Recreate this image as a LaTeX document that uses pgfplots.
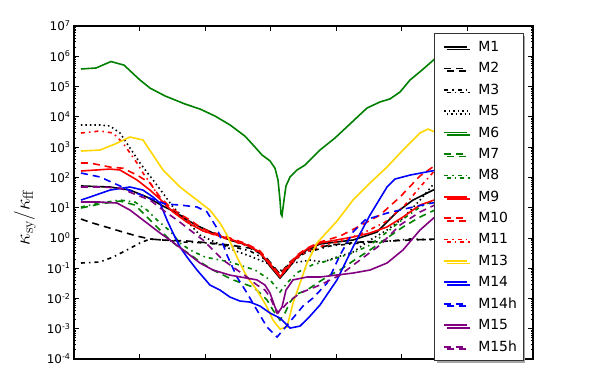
\documentclass[border=0pt]{standalone}
\usepackage[no-math]{fontspec}
\setmainfont{DejaVu Sans}
\usepackage{pgfplots}
\pgfplotsset{compat=1.18}
\usetikzlibrary{shadows}
\definecolor{mplgreen}{rgb}{0,0.5,0}
\definecolor{mplgold}{rgb}{1,0.84,0}
\definecolor{mplpurple}{rgb}{0.5,0,0.5}
\tikzset{
  mdash/.style={dash pattern=on 7bp off 5bp},
  mdashdot/.style={dash pattern=on 4bp off 4bp on 1.5bp off 4bp},
  mdot/.style={dash pattern=on 1.5bp off 3bp},
}
\begin{document}
\begin{tikzpicture}
\path[use as bounding box] (-74bp,-25bp) rectangle (518bp,359bp);
\begin{axis}[
  at={(0,0)}, anchor=south west,
  scale only axis, width=459bp, height=333bp,
  ymode=log, xmin=74, xmax=533, ymin=1e-4, ymax=1e7,
  xtick={74,139.57,205.14,270.71,336.29,401.86,467.43,533},
  xticklabels={,,,,,,,},
  ytick={1e-4,1e-3,1e-2,1e-1,1,1e1,1e2,1e3,1e4,1e5,1e6,1e7},
  yticklabels={10\textsuperscript{-4},10\textsuperscript{-3},10\textsuperscript{-2},10\textsuperscript{-1},10\textsuperscript{0},10\textsuperscript{1},10\textsuperscript{2},10\textsuperscript{3},10\textsuperscript{4},10\textsuperscript{5},10\textsuperscript{6},10\textsuperscript{7}},
  minor ytick={2e-4,3e-4,4e-4,5e-4,6e-4,7e-4,8e-4,9e-4,
    2e-3,3e-3,4e-3,5e-3,6e-3,7e-3,8e-3,9e-3,
    2e-2,3e-2,4e-2,5e-2,6e-2,7e-2,8e-2,9e-2,
    0.2,0.3,0.4,0.5,0.6,0.7,0.8,0.9,
    2,3,4,5,6,7,8,9,
    20,30,40,50,60,70,80,90,
    200,300,400,500,600,700,800,900,
    2e3,3e3,4e3,5e3,6e3,7e3,8e3,9e3,
    2e4,3e4,4e4,5e4,6e4,7e4,8e4,9e4,
    2e5,3e5,4e5,5e5,6e5,7e5,8e5,9e5,
    2e6,3e6,4e6,5e6,6e6,7e6,8e6,9e6},
  major tick length=5bp, minor tick length=2.5bp,
  tick style={line width=0.8bp, black},
  axis line style={line width=1.3bp},
  tick label style={font=\fontsize{12}{14}\selectfont},
  every axis y label/.style={at={(axis description cs:-0.107,0.425)}, rotate=90, anchor=center},
  ylabel={\fontsize{21}{25}\selectfont$\kappa_{\mathrm{sy}}\Big/\kappa_{\mathrm{ff}}$},
  every axis plot/.append style={line width=1.6bp},
  legend cell align=left,
  legend image code/.code={%
    \pgfpathmoveto{\pgfpoint{0bp}{-1bp}}\pgfpathlineto{\pgfpoint{38bp}{1bp}}\pgfusepath{use as bounding box}%
    \draw[#1] (6bp,0bp) -- (29bp,0bp);},
  legend style={at={(0.7843,0.979)}, anchor=north west, draw=black!80, line width=0.6bp, fill=white,
    drop shadow={shadow xshift=2.5bp, shadow yshift=-2.5bp, fill=black!35, opacity=1},
    font=\fontsize{14}{16}\selectfont, inner xsep=4bp, inner ysep=6bp,
    nodes={inner sep=2bp}, row sep=5.6bp},
]
% M1
\addplot[black] coordinates {(81,52) (110,48) (130,38) (147,22.4) (163,11.3) (177,6.6) (187,3.9) (200,2.3) (213,1.45) (230,0.85) (247,0.58) (260,0.32) (270,0.117) (280,0.047) (287,0.087) (297,0.233) (307,0.40) (320,0.63) (353,0.85) (377,1.56) (397,7.2) (413,17.8) (437,44)};
\addlegendentry{M1}
% M2
\addplot[black, mdash] coordinates {(81,4.2) (90,3.3) (110,2.1) (123,1.56) (137,1.15) (150,0.92) (163,0.85) (187,0.79) (210,0.68) (230,0.58) (250,0.46) (265,0.25) (280,0.064) (290,0.16) (305,0.37) (330,0.58) (360,0.73) (390,0.79) (410,0.85) (437,0.92)};
\addlegendentry{M2}
% M3
\addplot[black, mdashdot] coordinates {(81,0.148) (100,0.16) (113,0.233) (127,0.40) (140,0.68) (150,0.92) (163,0.85) (183,0.73) (207,0.68) (230,0.54) (250,0.37) (265,0.20) (280,0.064) (290,0.148) (305,0.32) (330,0.54) (360,0.68) (390,0.79) (410,0.92) (437,0.85)};
\addlegendentry{M3}
% M5
\addplot[black, mdot] coordinates {(81,5360) (100,5360) (110,4970) (120,2920) (130,931) (140,298) (153,82) (163,30) (173,10.5) (183,4.9) (200,1.24) (217,0.68) (233,0.40) (250,0.25) (267,0.148) (277,0.074) (285,0.10) (293,0.148) (310,0.186) (323,0.16) (337,0.233) (353,0.34) (370,0.85) (387,1.82) (403,4.5) (420,17.8) (437,82)};
\addlegendentry{M5}
% M6
\addplot[mplgreen] coordinates {(81,3.8e5) (96,4.1e5) (111,6.7e5) (124,5.1e5) (140,1.64e5) (150,8.9e4) (165,4.9e4) (185,2.65e4) (200,1.81e4) (215,1.06e4) (230,5.4e3) (245,2.3e3) (255,1.0e3) (262,550) (270,350) (275,200) (278,82) (280,17.8) (281,6.1) (282,5.3) (284,17.8) (286,52) (290,103) (297,175) (305,255) (313,470) (320,800) (335,2.0e3) (350,5.8e3) (367,1.95e4) (380,3.1e4) (390,3.9e4) (400,6.6e4) (410,1.64e5) (422,3.5e5) (437,9.5e5)};
\addlegendentry{M6}
% M7
\addplot[mplgreen, mdash] coordinates {(81,9.7) (100,13.2) (120,16.5) (135,12.2) (150,3.9) (160,1.82) (170,0.85) (180,0.46) (190,0.29) (200,0.16) (213,0.087) (233,0.041) (253,0.0238) (260,0.0151) (267,0.0089) (273,0.0041) (280,0.00193) (285,0.0033) (290,0.0076) (297,0.0140) (307,0.0189) (317,0.032) (330,0.059) (340,0.087) (353,0.172) (370,0.40) (387,0.99) (403,2.3) (420,4.9) (437,9.0)};
\addlegendentry{M7}
% M8
\addplot[mplgreen, mdashdot] coordinates {(81,10.5) (100,14.2) (120,17.8) (135,15.3) (147,8.3) (157,3.9) (170,1.69) (180,0.68) (190,0.40) (205,0.233) (230,0.16) (255,0.087) (270,0.041) (280,0.0163) (288,0.035) (298,0.074) (312,0.127) (330,0.186) (353,0.32) (370,0.58) (387,1.56) (403,4.2) (420,10.5) (437,19.2)};
\addlegendentry{M8}
% M9
\addplot[red] coordinates {(81,162) (110,188) (120,175) (137,82) (150,38) (160,19.2) (173,7.2) (187,3.3) (203,1.69) (230,0.92) (247,0.58) (260,0.34) (270,0.127) (280,0.051) (287,0.10) (297,0.25) (307,0.43) (320,0.68) (353,1.07) (370,1.45) (387,2.3) (403,4.9) (420,12.2) (437,19.2)};
\addlegendentry{M9}
% M10
\addplot[red, mdash] coordinates {(81,298) (90,298) (110,219) (123,200) (137,119) (150,65) (160,22.4) (170,10.5) (180,6.1) (190,3.9) (203,1.96) (230,0.99) (247,0.63) (260,0.37) (270,0.148) (280,0.059) (287,0.117) (297,0.27) (307,0.46) (320,0.73) (340,1.15) (360,2.5) (380,5.7) (400,22.4) (420,111) (437,275)};
\addlegendentry{M10}
% M11
\addplot[red, mdashdot] coordinates {(81,2920) (100,3400) (113,2920) (123,1360) (130,637) (137,298) (143,139) (153,48) (160,17.8) (170,9.0) (180,5.3) (190,3.3) (203,1.69) (230,0.85) (250,0.50) (262,0.27) (272,0.117) (280,0.055) (288,0.10) (298,0.233) (310,0.40) (325,0.58) (345,0.85) (365,1.56) (385,3.3) (405,12.2) (420,48) (437,203)};
\addlegendentry{M11}
% M13
\addplot[mplgold] coordinates {(81,741) (100,800) (115,1260) (130,2150) (143,1710) (153,547) (163,175) (180,48) (197,17.8) (210,8.3) (220,3.1) (227,1.24) (237,0.233) (247,0.051) (257,0.0189) (267,0.0052) (273,0.00193) (280,0.00098) (287,0.00114) (293,0.0070) (300,0.032) (307,0.148) (317,0.68) (337,3.6) (353,17.8) (370,65) (387,219) (403,800) (420,2920) (428,3950) (437,2920)};
\addlegendentry{M13}
% M14
\addplot[blue] coordinates {(81,17.8) (90,22.4) (110,38) (130,48) (143,38) (153,22.4) (160,14.2) (167,3.9) (173,1.45) (180,0.50) (187,0.233) (197,0.087) (210,0.0277) (220,0.0189) (230,0.0111) (240,0.0082) (250,0.0076) (260,0.0056) (270,0.0033) (280,0.00225) (290,0.00105) (300,0.00122) (310,0.0026) (320,0.0061) (337,0.041) (353,0.50) (370,5.7) (387,48) (395,88) (410,119) (437,175)};
\addlegendentry{M14}
% M14h
\addplot[blue, mdash] coordinates {(81,139) (100,103) (120,52) (133,33) (150,20.7) (165,13.2) (180,12.2) (197,10.5) (207,7.2) (217,2.1) (227,0.27) (237,0.051) (247,0.0151) (257,0.0041) (267,0.00114) (277,0.00053) (283,0.0009) (293,0.00225) (303,0.0056) (313,0.0103) (327,0.032) (340,0.27) (353,1.56) (365,3.9) (387,6.6) (413,10.5) (437,15.3)};
\addlegendentry{M14h}
% M15
\addplot[mplpurple] coordinates {(81,15.3) (100,15.3) (117,14.2) (130,8.3) (147,3.1) (160,1.45) (170,0.85) (187,0.32) (200,0.148) (213,0.087) (230,0.059) (257,0.041) (265,0.0277) (270,0.0151) (275,0.0052) (278,0.0033) (282,0.0052) (286,0.0189) (293,0.041) (307,0.051) (320,0.051) (353,0.069) (370,0.087) (387,0.148) (403,0.40) (420,1.82) (437,5.7)};
\addlegendentry{M15}
% M15h
\addplot[mplpurple, mdash] coordinates {(81,48) (103,48) (120,44) (137,26) (150,17.8) (163,8.3) (180,3.3) (190,1.82) (203,0.85) (213,0.40) (223,0.186) (233,0.109) (247,0.051) (257,0.0277) (265,0.0189) (270,0.0111) (277,0.0033) (281,0.0041) (287,0.0070) (300,0.0151) (320,0.0277) (340,0.059) (360,0.186) (380,0.58) (400,2.66) (420,7.2) (437,13.2)};
\addlegendentry{M15h}
\end{axis}
\end{tikzpicture}
\end{document}
